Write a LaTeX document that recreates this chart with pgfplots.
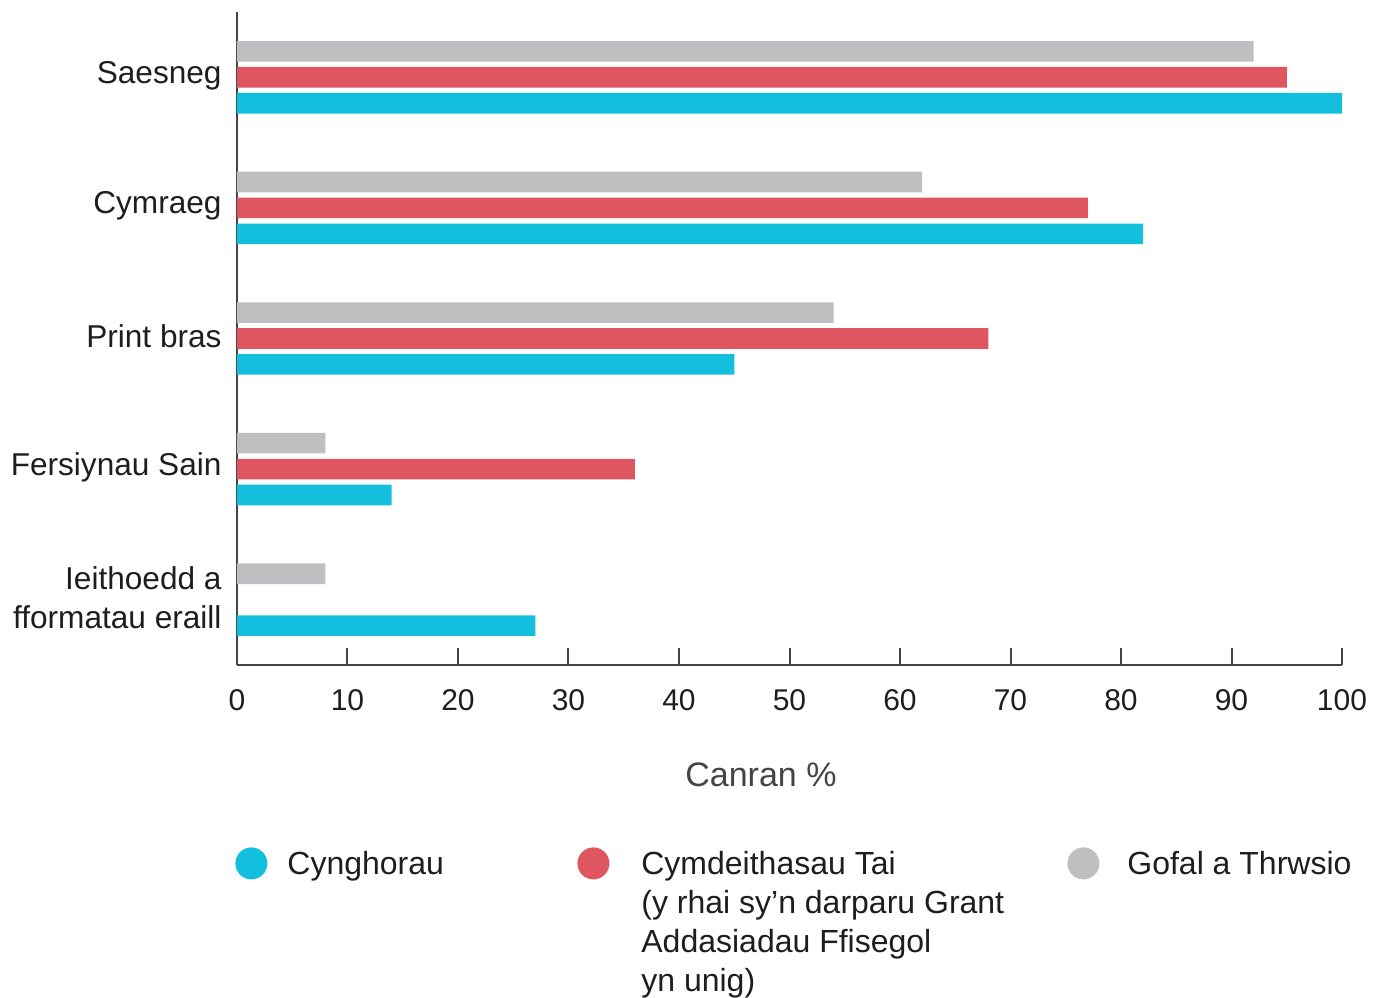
\documentclass[border=0pt]{standalone}
\usepackage{pgfplots}
\pgfplotsset{compat=1.18}
\usepackage{fontspec}
\setmainfont{Liberation Sans}

\definecolor{cyngh}{RGB}{19,191,221}
\definecolor{tai}{RGB}{223,86,96}
\definecolor{gofal}{RGB}{190,191,193}
\definecolor{axisgrey}{RGB}{68,68,68}
\definecolor{txt}{RGB}{30,30,30}

\begin{document}
\begin{tikzpicture}
\useasboundingbox (-118.5pt,-166pt) rectangle (575.5pt,332.5pt);
\begin{axis}[
  at={(0,0)}, anchor=south west,
  scale only axis, width=552.5pt, height=326.5pt,
  xmin=0, xmax=100, ymin=-0.5, ymax=4.5,
  axis x line*=bottom, axis y line*=left,
  axis line style={axisgrey, line width=1pt},
  xtick={0,10,...,100}, tick align=inside, major tick length=8.5pt,
  x tick style={axisgrey, line width=1pt},
  ytick={0,1,2,3,4}, y tick style={draw=none},
  yticklabels={{Ieithoedd a\\fformatau eraill}, Fersiynau Sain, Print bras, Cymraeg, Saesneg},
  yticklabel style={align=right, font=\fontsize{15.8}{19.5}\selectfont, text=txt, xshift=4.3pt, yshift=1pt},
  xticklabel style={font=\fontsize{15}{18}\selectfont, text=txt, yshift=-8.5pt},
  /pgf/number format/assume math mode=true,
  xbar, bar width=0.158,
  xlabel={Canran \%},
  xlabel style={at={(axis description cs:0.4742,0)}, anchor=center, yshift=-55pt,
    font=\fontsize{17}{20}\selectfont, text=axisgrey},
  legend columns=3,
  legend cell align=left,
  legend style={draw=none, fill=none, inner sep=0pt, column sep=0pt,
    nodes={inner sep=0pt, text=txt, font=\fontsize{16}{19.5}\selectfont},
    at={(axis description cs:0,0)}, anchor=north west, xshift=-1pt, yshift=-91pt},
]
\addplot[fill=cyngh, draw=none, bar shift=-0.1985,
  legend image code/.code={\fill[cyngh] (8pt,0.5pt) circle (8pt); \path (0pt,0pt) (26pt,0pt);}]
  coordinates {(100,4) (82,3) (45,2) (14,1) (27,0)};
\addlegendentry{\parbox[t]{145pt}{Cynghorau}}
\addplot[fill=tai, draw=none, bar shift=0,
  legend image code/.code={\fill[tai] (8pt,0.5pt) circle (8pt); \path (0pt,0pt) (32pt,0pt);}]
  coordinates {(95,4) (77,3) (68,2) (36,1)};
\addlegendentry{\parbox[t]{213pt}{Cymdeithasau Tai\\(y rhai sy’n darparu Grant\\Addasiadau Ffisegol\\yn unig)}}
\addplot[fill=gofal, draw=none, bar shift=0.1985,
  legend image code/.code={\fill[gofal] (8pt,0.5pt) circle (8pt); \path (0pt,0pt) (30pt,0pt);}]
  coordinates {(92,4) (62,3) (54,2) (8,1) (8,0)};
\addlegendentry{Gofal a Thrwsio}
\end{axis}
\end{tikzpicture}
\end{document}
